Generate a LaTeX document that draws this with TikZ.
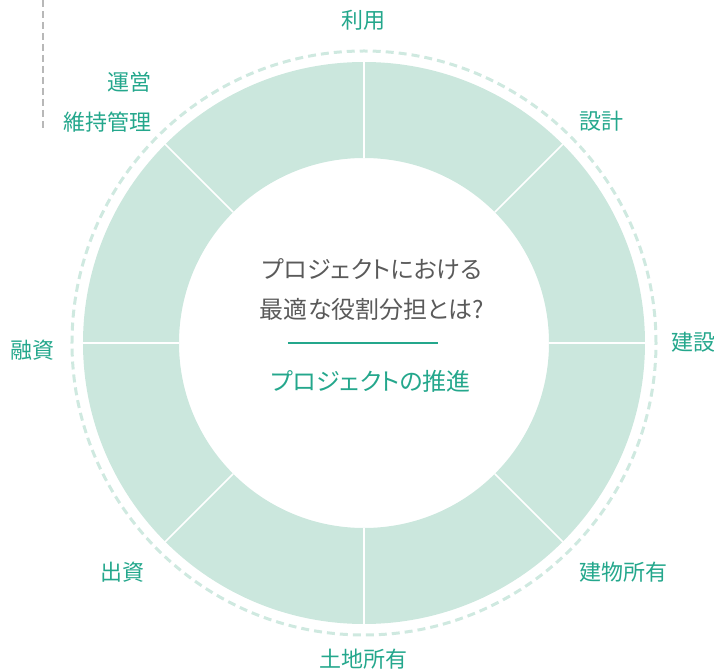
\documentclass[tikz,border=0pt]{standalone}
\usepackage{fontspec}
\setmainfont{Noto Sans CJK JP}
\newfontfamily\propjp[RawFeature=+palt]{Noto Sans CJK JP}
\usepackage{tikz}
\definecolor{ringgreen}{HTML}{CBE7DD}
\definecolor{dashgreen}{HTML}{CFE9E0}
\definecolor{roleteal}{HTML}{24A78C}
\definecolor{askgray}{HTML}{5A5A5A}
\tikzset{role/.style={text=roleteal, font=\fontsize{22}{24}\selectfont, inner sep=0pt}}
\begin{document}
\begin{tikzpicture}[x=1pt,y=1pt]
\useasboundingbox (-364,-328) rectangle (350,343);
\draw[color=black!28, line width=1.2pt, dash pattern=on 7pt off 4pt] (-321,343) -- (-321,213);
\draw[dashgreen, line width=3pt, dash pattern=on 8pt off 5pt] (0,0) circle (292);
\fill[ringgreen, even odd rule] (0,0) circle (281) (0,0) circle (185);
\foreach \a in {0,45,...,315}
    \draw[white, line width=1.6pt] (\a:185) -- (\a:281.5);
\node[role] at (-1,323) (use) {利用};
\node[role] at (237,222) (design) {設計};
\node[role] at (329,1) (build) {建設};
\node[role] at (259,-229) (own) {建物所有};
\node[role] at (-1,-316) (land) {土地所有};
\node[role] at (-241,-229) (equity) {出資};
\node[role] at (-331,-7) (loan) {融資};
\node[role, anchor=east] at (-212,261) (ops) {運営};
\node[role, anchor=east] at (-212,221) (upkeep) {維持管理};
\node[text=askgray, font=\propjp\fontsize{24}{40}\selectfont, align=center, inner sep=0pt] at (8,53) (ask) {プロジェクトにおける\\最適な役割分担とは?};
\coordinate (rl) at (-76,0);
\coordinate (rr) at (74,0);
\draw[roleteal, line width=1.2pt] (rl) -- (rr);
\node[role, font=\propjp\fontsize{24}{26}\selectfont] at (7,-38) (goal) {プロジェクトの推進};
\end{tikzpicture}
\end{document}
